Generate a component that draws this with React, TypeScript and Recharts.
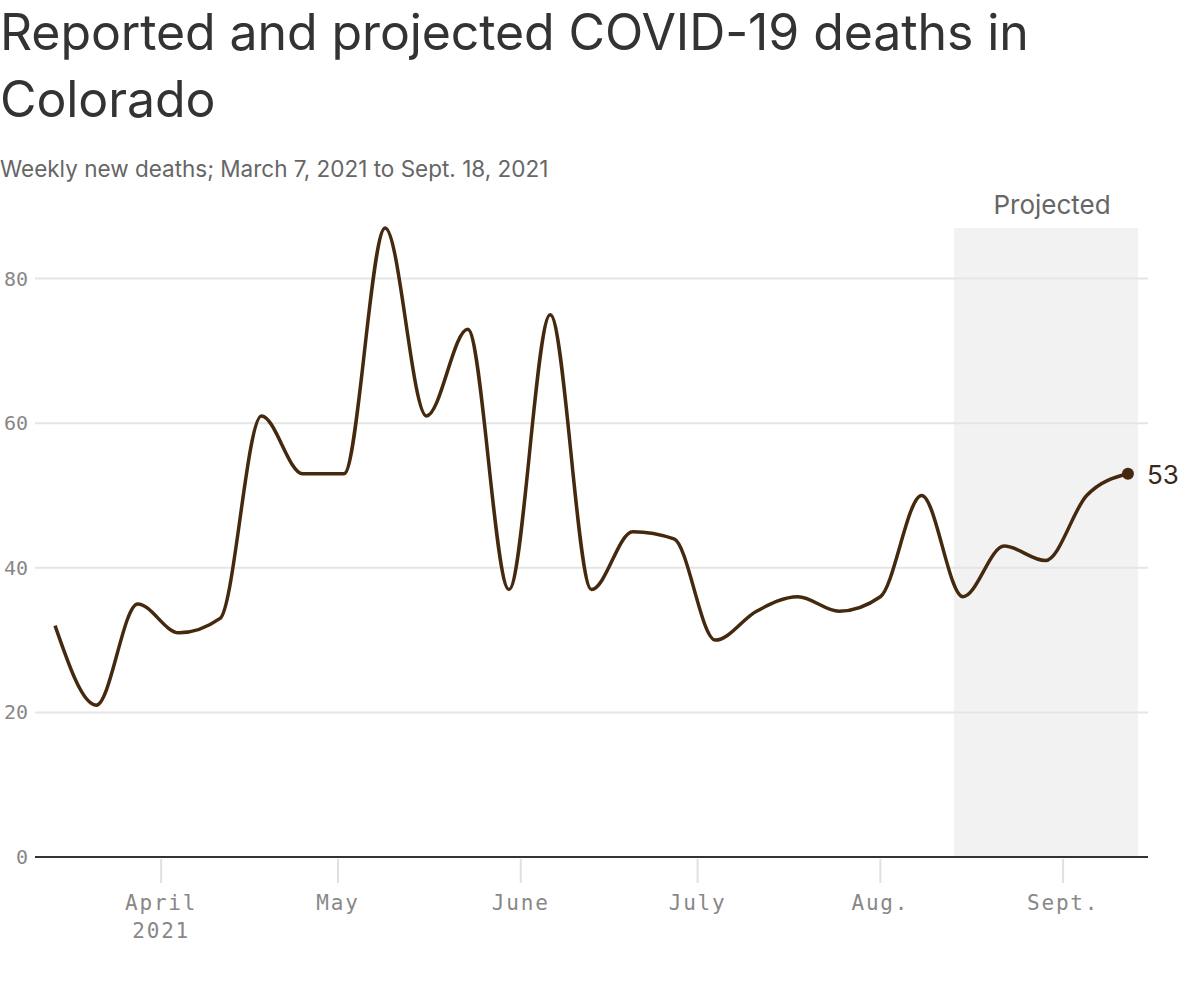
import React from "react";
import { LineChart, Line, XAxis, YAxis, ReferenceArea, ReferenceLine } from "recharts";

// Week start dates (2021)
const weekDates = [
  "2021-03-14", "2021-03-21", "2021-03-28", "2021-04-04", "2021-04-11", "2021-04-18", "2021-04-25",
  "2021-05-02", "2021-05-09", "2021-05-16", "2021-05-23", "2021-05-30", "2021-06-06", "2021-06-13",
  "2021-06-20", "2021-06-27", "2021-07-04", "2021-07-11", "2021-07-18", "2021-07-25", "2021-08-01",
  "2021-08-08", "2021-08-15", "2021-08-22", "2021-08-29", "2021-09-05", "2021-09-12",
];
const weeklyDeaths = [32, 21, 35, 31, 33, 61, 53, 53, 87, 61, 73, 37, 75, 37, 45, 44, 30, 34, 36, 34, 36, 50, 36, 43, 41, 50, 53];

const tickDates = ["2021-04-01", "2021-05-01", "2021-06-01", "2021-07-01", "2021-08-01", "2021-09-01"];
const tickLabels = [["April", "2021"], ["May"], ["June"], ["July"], ["Aug."], ["Sept."]];
const yTicks = [0, 20, 40, 60, 80];
const gridValues = [20, 40, 60, 80];
const projectedStart = "2021-08-13T12:00:00Z";
const projectedEnd = "2021-09-13T17:00:00Z";

const DAY = 86400000;
const origin = Date.parse(weekDates[0] + "T00:00:00Z");
const toDay = (s: string) => (Date.parse(s.length === 10 ? s + "T00:00:00Z" : s) - origin) / DAY;

const data = weekDates.map((d, i) => ({ day: toDay(d), deaths: weeklyDeaths[i] }));
const xTicks = tickDates.map(toDay);
const lastDay = data[data.length - 1].day;

const LINE = "#45290f";
const MONO = "'DejaVu Sans Mono', 'Liberation Mono', monospace";
const SANS = "Inter, 'Noto Sans', sans-serif";

const XTick = (props: any) => {
  const { x, y, payload } = props;
  const idx = xTicks.indexOf(payload.value);
  const lines = idx >= 0 ? tickLabels[idx] : [];
  return (
    <g>
      <line x1={x} x2={x} y1={y + 2} y2={y + 26} stroke="#e0e0e0" strokeWidth={2} />
      {lines.map((t, i) => (
        <text key={i} x={x} y={y + 53 + i * 28} textAnchor="middle" fill="#888" fontSize={21} fontFamily={MONO} letterSpacing={1.8}>
          {t}
        </text>
      ))}
    </g>
  );
};

const YTick = (props: any) => {
  const { y, payload } = props;
  return (
    <text x={28} y={y + 7} textAnchor="end" fill="#888" fontSize={20} fontFamily={MONO}>
      {payload.value}
    </text>
  );
};

const EndDot = (props: any) => {
  const { cx, cy, index } = props;
  if (index !== data.length - 1) return <g key={index} />;
  return (
    <g key={index}>
      <circle cx={cx} cy={cy} r={6} fill={LINE} />
      <text x={cx + 19} y={cy + 10} fill="#3a2a1c" fontSize={26} fontFamily={SANS}>
        {data[index].deaths}
      </text>
    </g>
  );
};

const ProjectedLabel = (props: any) => {
  const vb = props.viewBox || {};
  return (
    <text x={vb.x + vb.width / 2 + 6} y={vb.y - 14} textAnchor="middle" fill="#666" fontSize={26} fontFamily={SANS}>
      Projected
    </text>
  );
};

export default function App() {
  return (
    <div style={{ position: "absolute", left: 0, top: 0, width: 1200, height: 990, background: "#fff" }}>
      <div style={{ position: "absolute", left: 0, top: -1, width: 1200, fontFamily: SANS, fontSize: 50, lineHeight: "67px", color: "#333", letterSpacing: -0.1 }}>
        Reported and projected COVID-19 deaths in
        <br />
        Colorado
      </div>
      <div style={{ position: "absolute", left: 0, top: 155, fontFamily: SANS, fontSize: 22.5, color: "#666", letterSpacing: 0 }}>
        Weekly new deaths; March 7, 2021 to Sept. 18, 2021
      </div>
      <div style={{ position: "absolute", left: 0, top: 0 }}>
        <LineChart width={1200} height={990} data={data} margin={{ top: 228, right: 52, bottom: 73, left: 0 }}>
          <ReferenceArea
            x1={toDay(projectedStart)}
            x2={toDay(projectedEnd)}
            y1={0}
            y2={87}
            fill="#f2f2f2"
            fillOpacity={1}
            stroke="none"
            label={<ProjectedLabel />}
          />
          {gridValues.map((v) => (
            <ReferenceLine key={v} y={v} stroke="#e5e5e5" strokeWidth={2} />
          ))}
          <XAxis
            dataKey="day"
            type="number"
            domain={[-3.4, lastDay + 3.4]}
            ticks={xTicks}
            tick={<XTick />}
            tickLine={false}
            tickSize={0}
            tickMargin={0}
            height={60}
            axisLine={{ stroke: "#333", strokeWidth: 2 }}
            interval={0}
          />
          <YAxis
            type="number"
            domain={[0, 87]}
            ticks={yTicks}
            width={35}
            axisLine={false}
            tickLine={false}
            tick={<YTick />}
            interval={0}
          />
          <Line
            type="monotone"
            dataKey="deaths"
            stroke={LINE}
            strokeWidth={3.5}
            dot={<EndDot />}
            activeDot={false}
            isAnimationActive={false}
          />
        </LineChart>
      </div>
    </div>
  );
}
